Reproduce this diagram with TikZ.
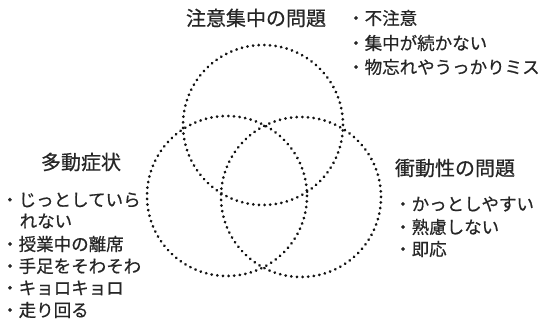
\documentclass[tikz,border=0pt]{standalone}
\usepackage{fontspec}
\newfontfamily\jp[FakeBold=0.6]{Noto Sans CJK JP}
\begin{document}
\begin{tikzpicture}[x=1pt,y=-1pt,
  dotcircle/.style={circle, draw=black!92, line width=3pt, line cap=round,
    dash pattern=on 0.05pt off 5.6pt, minimum size=160pt, inner sep=0pt},
  ttl/.style={text=black!85, inner sep=0pt, font=\jp\fontsize{20}{24}\selectfont},
  itm/.style={text=black!85, inner sep=0pt, anchor=west, font=\jp\fontsize{17.5}{21}\selectfont}]
\useasboundingbox[fill=white] (0,0) rectangle (544,326);
% circles
\node[dotcircle] (att) at (263,125) {};
\node[dotcircle] (hyp) at (227,196) {};
\node[dotcircle] (imp) at (301,197) {};
% titles
\node[ttl] (tatt) at (256,18) {注意集中の問題};
\node[ttl] (thyp) at (81,162) {多動症状};
\node[ttl] (timp) at (455,168) {衝動性の問題};
% attention items
\node[itm] (a1) at (347,18) {・不注意};
\node[itm] (a2) at (347,43) {・集中が続かない};
\node[itm] (a3) at (347,67) {・物忘れやうっかりミス};
% hyperactivity items
\node[itm] (h1) at (1,200) {・じっとしていら};
\node[itm] (h2) at (19.5,221) {れない};
\node[itm] (h3) at (1,244) {・授業中の離席};
\node[itm] (h4) at (1,266) {・手足をそわそわ};
\node[itm] (h5) at (1,288) {・キョロキョロ};
\node[itm] (h6) at (1,310) {・走り回る};
% impulsivity items
\node[itm] (i1) at (394,204) {・かっとしやすい};
\node[itm] (i2) at (394,227) {・熟慮しない};
\node[itm] (i3) at (394,249) {・即応};
\end{tikzpicture}
\end{document}
